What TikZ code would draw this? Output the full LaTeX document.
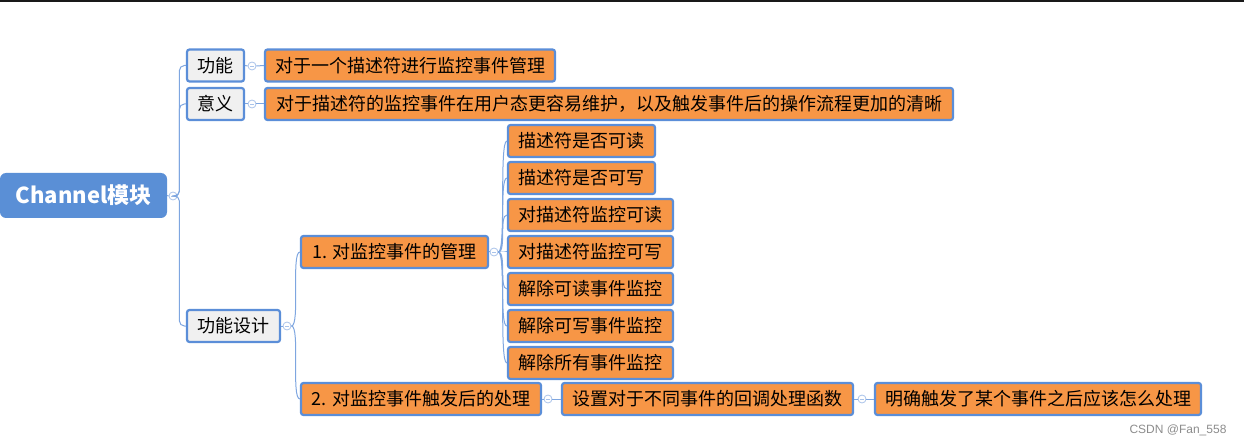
\documentclass[tikz,border=0pt]{standalone}
\usepackage{fontspec}
\setmainfont{Noto Sans CJK SC}
\newfontfamily\wmfont{Liberation Sans}
\definecolor{bordblue}{HTML}{5B8ED8}
\definecolor{rootblue}{HTML}{5A8FD6}
\definecolor{linkblue}{HTML}{7EA6E0}
\definecolor{orangefill}{HTML}{F79646}
\definecolor{grayfill}{HTML}{F0F0F0}
\definecolor{circblue}{HTML}{A9C3EA}
\begin{document}
\begin{tikzpicture}[x=1pt,y=-1pt,
  basebox/.style={draw=bordblue, line width=2.2pt, rounded corners=2.5pt, inner sep=0pt, font=\fontsize{18}{20}\selectfont, text=black},
  obox/.style={basebox, fill=orangefill, minimum height=32pt},
  gbox/.style={basebox, fill=grayfill, minimum height=32pt},
  rootbox/.style={fill=rootblue, rounded corners=6pt, inner sep=0pt, text=white, font=\fontsize{22}{26}\selectfont\bfseries},
  conn/.style={draw=linkblue, line width=1pt},
  fold/.style={circle, draw=circblue, fill=white, line width=0.8pt, minimum size=8pt, inner sep=0pt,
    path picture={\draw[circblue, line width=0.8pt] ([xshift=-2pt]path picture bounding box.center) -- ([xshift=2pt]path picture bounding box.center);}},
]
\useasboundingbox (0,0) rectangle (1244,446);
\fill[black!90] (0,0) rectangle (1244,2);

% nodes
\node[rootbox, minimum width=167pt, minimum height=45pt] (root) at (83.5,195.5) {Channel模块};
\node[gbox, minimum width=57pt] (g1) at (215.5,65.5) {功能};
\node[gbox, minimum width=57pt] (g2) at (215.5,104) {意义};
\node[gbox, minimum width=93pt] (g3) at (233.5,326) {功能设计};
\node[obox, minimum width=290pt] (t1) at (410,65.5) {对于一个描述符进行监控事件管理};
\node[obox, minimum width=688pt] (t2) at (609,104) {对于描述符的监控事件在用户态更容易维护，以及触发事件后的操作流程更加的清晰};
\node[obox, minimum width=187pt] (m1) at (394.5,252) {1. 对监控事件的管理};
\node[obox, minimum width=240pt] (m2) at (421,399) {2. 对监控事件触发后的处理};
\node[obox, minimum width=147pt] (k1) at (581.5,141) {描述符是否可读};
\node[obox, minimum width=147pt] (k2) at (581.5,178) {描述符是否可写};
\node[obox, minimum width=165pt] (k3) at (590.5,215) {对描述符监控可读};
\node[obox, minimum width=165pt] (k4) at (590.5,252) {对描述符监控可写};
\node[obox, minimum width=165pt] (k5) at (590.5,289) {解除可读事件监控};
\node[obox, minimum width=165pt] (k6) at (590.5,326) {解除可写事件监控};
\node[obox, minimum width=165pt] (k7) at (590.5,363) {解除所有事件监控};
\node[obox, minimum width=291pt] (s1) at (707.5,399) {设置对于不同事件的回调处理函数};
\node[obox, minimum width=326pt] (s2) at (1038,399) {明确触发了某个事件之后应该怎么处理};

% fold circles
\node[fold] (r0) at (173,196) {};
\node[fold] (r1) at (252,66) {};
\node[fold] (r2) at (252,104) {};
\node[fold] (r3) at (287,326) {};
\node[fold] (r4) at (494,252) {};
\node[fold] (r5) at (548,399) {};
\node[fold] (r6) at (862,399) {};

% connectors
\draw[conn] (root.east) -- (r0.west);
\draw[conn, rounded corners=5pt] (r0.east) -- ++(2,0) |- (g1.west);
\draw[conn, rounded corners=5pt] (r0.east) -- ++(2,0) |- (g2.west);
\draw[conn, rounded corners=5pt] (r0.east) -- ++(2,0) |- (g3.west);
\draw[conn] (g1.east) -- (r1.west);
\draw[conn] (r1.east) -- (t1.west);
\draw[conn] (g2.east) -- (r2.west);
\draw[conn] (r2.east) -- (t2.west);
\draw[conn] (g3.east) -- (r3.west);
\draw[conn] (r3.east) .. controls +(9,0) and +(-9,0) .. (m1.west);
\draw[conn] (r3.east) .. controls +(9,0) and +(-9,0) .. (m2.west);
\draw[conn] (m1.east) -- (r4.west);
\foreach \k in {k1,k2,k3,k4,k5,k6,k7}{
  \draw[conn] (r4.east) .. controls +(8,0) and +(-8,0) .. (\k.west);
}
\draw[conn] (m2.east) -- (r5.west);
\draw[conn] (r5.east) -- (s1.west);
\draw[conn] (s1.east) -- (r6.west);
\draw[conn] (r6.east) -- (s2.west);

\node[text=black!45, font=\wmfont\fontsize{12}{14}\selectfont] (wm) at (1178,430) {CSDN @Fan\_558};
\end{tikzpicture}
\end{document}
